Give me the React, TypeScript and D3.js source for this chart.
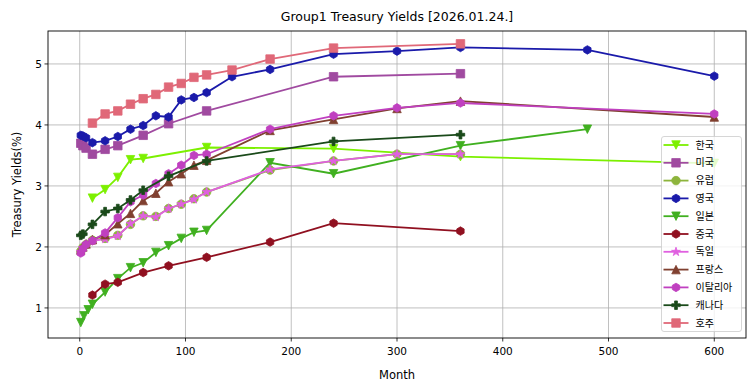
import * as d3 from 'd3';

const W = 755;
const H = 391;
const margin = { top: 31, right: 9, bottom: 53, left: 48 };

const title = 'Group1 Treasury Yields [2026.01.24.]';
const xTicks = [0, 100, 200, 300, 400, 500, 600];
const yTicks = [1, 2, 3, 4, 5];

// 국가별 만기(개월) / 금리(%)
const koreaMonths = [12, 24, 36, 48, 60, 120, 240, 360, 600];
const koreaYields = [2.8, 2.94, 3.14, 3.43, 3.45, 3.63, 3.61, 3.48, 3.37];

const usMonths = [1, 3, 6, 12, 24, 36, 60, 84, 120, 240, 360];
const usYields = [3.7, 3.66, 3.62, 3.52, 3.6, 3.66, 3.83, 4.02, 4.23, 4.79, 4.84];

const europeMonths = [1, 3, 6, 12, 24, 36, 48, 60, 72, 84, 96, 108, 120, 180, 240, 300, 360];
const europeYields = [1.93, 1.99, 2.04, 2.11, 2.14, 2.19, 2.37, 2.51, 2.5, 2.63, 2.7, 2.79, 2.9, 3.26, 3.41, 3.52, 3.52];

const ukMonths = [1, 3, 6, 12, 24, 36, 48, 60, 72, 84, 96, 108, 120, 144, 180, 240, 300, 360, 480, 600];
const ukYields = [3.83, 3.82, 3.79, 3.71, 3.74, 3.81, 3.93, 3.99, 4.15, 4.13, 4.41, 4.45, 4.53, 4.79, 4.91, 5.16, 5.21, 5.27, 5.23, 4.8];

const japanMonths = [1, 4, 8, 12, 24, 36, 48, 60, 72, 84, 96, 108, 120, 180, 240, 360, 480];
const japanYields = [0.76, 0.87, 0.97, 1.06, 1.26, 1.48, 1.66, 1.74, 1.91, 2.02, 2.14, 2.24, 2.27, 3.38, 3.2, 3.66, 3.93];

const chinaMonths = [12, 24, 36, 60, 84, 120, 180, 240, 360];
const chinaYields = [1.21, 1.39, 1.42, 1.58, 1.69, 1.83, 2.08, 2.39, 2.26];

const germanyMonths = [1, 3, 6, 12, 24, 36, 48, 60, 72, 84, 96, 108, 120, 180, 240, 300, 360];
const germanyYields = [1.92, 1.98, 2.04, 2.1, 2.13, 2.18, 2.38, 2.51, 2.49, 2.63, 2.7, 2.78, 2.9, 3.27, 3.41, 3.52, 3.52];

const franceMonths = [1, 3, 6, 12, 24, 36, 48, 60, 72, 84, 96, 108, 120, 180, 240, 300, 360, 600];
const franceYields = [1.95, 2.0, 2.05, 2.12, 2.2, 2.38, 2.55, 2.76, 2.88, 3.07, 3.2, 3.34, 3.42, 3.91, 4.09, 4.27, 4.39, 4.13];

const italyMonths = [1, 3, 6, 12, 24, 36, 48, 60, 72, 84, 96, 108, 120, 180, 240, 300, 360, 600];
const italyYields = [1.9, 1.97, 2.04, 2.1, 2.23, 2.48, 2.74, 2.85, 3.04, 3.2, 3.34, 3.5, 3.52, 3.93, 4.15, 4.28, 4.36, 4.18];

const canadaMonths = [1, 3, 12, 24, 36, 48, 60, 84, 120, 240, 360];
const canadaYields = [2.19, 2.21, 2.37, 2.58, 2.63, 2.77, 2.93, 3.16, 3.41, 3.73, 3.84];

const australiaMonths = [12, 24, 36, 48, 60, 72, 84, 96, 108, 120, 144, 180, 240, 360];
const australiaYields = [4.03, 4.18, 4.23, 4.34, 4.43, 4.5, 4.62, 4.68, 4.78, 4.82, 4.9, 5.08, 5.26, 5.33];

const series = [
  { name: '한국', months: koreaMonths, yields: koreaYields, color: '#7cf000', marker: 'v' },
  { name: '미국', months: usMonths, yields: usYields, color: '#a04aa0', marker: 's' },
  { name: '유럽', months: europeMonths, yields: europeYields, color: '#8db43c', marker: 'o' },
  { name: '영국', months: ukMonths, yields: ukYields, color: '#1a1aaa', marker: 'h' },
  { name: '일본', months: japanMonths, yields: japanYields, color: '#40b020', marker: 'v' },
  { name: '중국', months: chinaMonths, yields: chinaYields, color: '#901020', marker: 'h' },
  { name: '독일', months: germanyMonths, yields: germanyYields, color: '#e060e0', marker: '*' },
  { name: '프랑스', months: franceMonths, yields: franceYields, color: '#804030', marker: '^' },
  { name: '이탈리아', months: italyMonths, yields: italyYields, color: '#c040c0', marker: 'h' },
  { name: '캐나다', months: canadaMonths, yields: canadaYields, color: '#1a4a1a', marker: 'P' },
  { name: '호주', months: australiaMonths, yields: australiaYields, color: '#e06878', marker: 's' },
];

const MS = 8.5;

function markerPath(m: string, s: number) {
  const h = s / 2;
  const poly = (pts: number[][]) => 'M' + pts.map(p => p.join(',')).join('L') + 'Z';
  if (m === 'v') return poly([[-h, -h], [h, -h], [0, h]]);
  if (m === '^') return poly([[-h, h], [h, h], [0, -h]]);
  if (m === 's') return poly([[-h, -h], [h, -h], [h, h], [-h, h]]);
  if (m === 'h') {
    return poly(d3.range(6).map(i => {
      const a = (i * Math.PI) / 3;
      return [h * Math.sin(a), -h * Math.cos(a)];
    }));
  }
  if (m === '*') {
    return poly(d3.range(10).map(i => {
      const a = (i * Math.PI) / 5;
      const r = i % 2 === 0 ? h * 1.1 : h * 1.1 * 0.381966;
      return [r * Math.sin(a), -r * Math.cos(a)];
    }));
  }
  if (m === 'P') {
    const k = s / 6;
    const pts = [[-1, -3], [1, -3], [1, -1], [3, -1], [3, 1], [1, 1], [1, 3], [-1, 3], [-1, 1], [-3, 1], [-3, -1], [-1, -1]];
    return poly(pts.map(([a, b]) => [a * k, b * k]));
  }
  return `M${-h},0A${h},${h} 0 1,0 ${h},0A${h},${h} 0 1,0 ${-h},0Z`;
}

export default function App() {
  const iw = W - margin.left - margin.right;
  const ih = H - margin.top - margin.bottom;

  const x = d3.scaleLinear().domain([-30, 630]).range([0, iw]);
  const y = d3.scaleLinear().domain([0.507, 5.54]).range([ih, 0]);

  const line = d3.line<[number, number]>()
    .x(d => x(d[0]))
    .y(d => y(d[1]));

  const font = '"DejaVu Sans", sans-serif';
  const legX = 661.5 - margin.left;
  const legY = 136.5 - margin.top;

  return (
    <svg width={W} height={H} style={{ position: 'absolute', left: 0, top: 0, background: '#fff' }}>
      <text x={margin.left + iw / 2} y={21} textAnchor="middle" fontFamily={font} fontSize={12.5} fill="#000">
        {title}
      </text>
      <g transform={`translate(${margin.left},${margin.top})`}>
        {/* 그리드 */}
        {xTicks.map(t => (
          <line key={'gx' + t} x1={x(t)} x2={x(t)} y1={0} y2={ih} stroke="#b0b0b0" strokeWidth={0.8} />
        ))}
        {yTicks.map(t => (
          <line key={'gy' + t} x1={0} x2={iw} y1={y(t)} y2={y(t)} stroke="#b0b0b0" strokeWidth={0.8} />
        ))}

        {/* 시리즈 */}
        {series.map(s => {
          const pts = s.months.map((m, i) => [m, s.yields[i]] as [number, number]);
          return (
            <g key={s.name}>
              <path d={line(pts) || ''} fill="none" stroke={s.color} strokeWidth={1.8} />
              {pts.map((p, i) => (
                <path key={i} d={markerPath(s.marker, MS)} transform={`translate(${x(p[0])},${y(p[1])})`}
                  fill={s.color} stroke={s.color} strokeWidth={0.8} />
              ))}
            </g>
          );
        })}

        {/* 축 */}
        <rect x={0} y={0} width={iw} height={ih} fill="none" stroke="#000" strokeWidth={0.9} />
        {xTicks.map(t => (
          <g key={'tx' + t} transform={`translate(${x(t)},${ih})`}>
            <line y2={3.5} stroke="#000" strokeWidth={0.8} />
            <text y={16.5} textAnchor="middle" fontFamily={font} fontSize={10.5} fill="#000">{t}</text>
          </g>
        ))}
        {yTicks.map(t => (
          <g key={'ty' + t} transform={`translate(0,${y(t)})`}>
            <line x2={-3.5} stroke="#000" strokeWidth={0.8} />
            <text x={-6} dy="0.36em" textAnchor="end" fontFamily={font} fontSize={10.5} fill="#000">{t}</text>
          </g>
        ))}
        <text x={iw / 2} y={ih + 41} textAnchor="middle" fontFamily={font} fontSize={11.5} fill="#000">Month</text>
        <text transform={`translate(${17 - margin.left},${ih / 2}) rotate(-90)`} textAnchor="middle" dy="0.35em"
          fontFamily={font} fontSize={11.5} fill="#000">Treasury Yields(%)</text>

        {/* 범례 */}
        <g transform={`translate(${legX},${legY})`}>
          <rect x={0} y={0} width={80} height={195} rx={2.5} fill="#fff" fillOpacity={0.8} stroke="#cccccc" strokeWidth={0.8} />
          {series.map((s, i) => {
            const cy = 8.5 + i * 17.8;
            return (
              <g key={'lg' + s.name} transform={`translate(0,${cy})`}>
                <line x1={2} x2={27} stroke={s.color} strokeWidth={1.8} />
                <path d={markerPath(s.marker, MS)} transform="translate(14.5,0)" fill={s.color} stroke={s.color} strokeWidth={0.8} />
                <text x={34} dy="0.36em" fontFamily='"Noto Sans CJK KR", sans-serif' fontSize={10} fill="#000">{s.name}</text>
              </g>
            );
          })}
        </g>
      </g>
    </svg>
  );
}
